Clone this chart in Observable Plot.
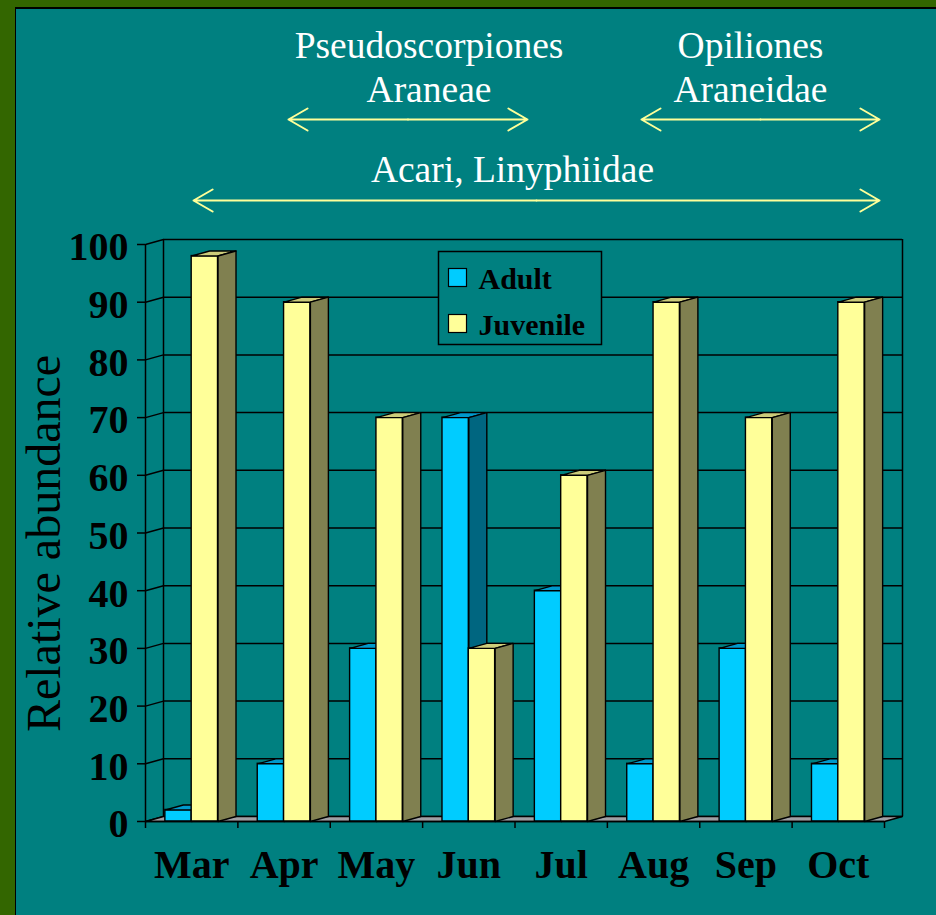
<!DOCTYPE html>
<html><head><meta charset="utf-8">
<script src="https://cdn.jsdelivr.net/npm/d3@7"></script>
<script src="https://cdn.jsdelivr.net/npm/@observablehq/plot@0.6"></script>
<style>
html,body{margin:0;padding:0;background:#008080;}
#wrap{position:relative;width:936px;height:915px;background:#008080;overflow:hidden;}
#chart{position:absolute;left:0;top:0;}
.b{position:absolute;}
</style></head><body>
<div id="wrap">
<div id="chart"></div>
<div class="b" style="left:0;top:0;width:15px;height:915px;background:#336600"></div>
<div class="b" style="left:15px;top:7px;width:1px;height:908px;background:#000"></div>
<div class="b" style="left:0;top:0;width:936px;height:7px;background:#336600"></div>
<div class="b" style="left:15px;top:7px;width:921px;height:2px;background:#000"></div>
</div>
<script>
// ---- data ----
const months = ["Mar", "Apr", "May", "Jun", "Jul", "Aug", "Sep", "Oct"];
const adult = [2, 10, 30, 70, 40, 10, 30, 10];
const juvenile = [98, 90, 70, 30, 60, 90, 70, 90];
const seriesNames = ["Adult", "Juvenile"];
const yTicks = [0, 10, 20, 30, 40, 50, 60, 70, 80, 90, 100];
const yTitle = "Relative abundance";
const annotationLabels = ["Pseudoscorpiones\nAraneae", "Opiliones\nAraneidae", "Acari, Linyphiidae"];

// ---- layout ----
const W = 936, H = 915, mL = 145, mR = 52, mT = 244, mB = 94;
const xUnit = (W - mL - mR) / months.length;
const yUnit = (H - mT - mB) / 100;
const D = 18 / xUnit, E = 5 / yUnit;         // 3D depth in data units
const yFromPx = px => (H - mB - px) / yUnit;
const barW = 0.285;
const styles = {
  Adult: {off: 0.215, front: "#00CCFF", top: "#0099CC", side: "#006680"},
  Juvenile: {off: 0.5, front: "#FFFF99", top: "#CCCC7A", side: "#808050"}
};
const SW = 1.4;

function faces(values, off) {
  const fronts = [], tops = [], sides = [];
  values.forEach((v, i) => {
    const x1 = i + off, x2 = x1 + barW;
    fronts.push({x1, x2, v});
    tops.push({id: i, x: x1, y: v}, {id: i, x: x2, y: v}, {id: i, x: x2 + D, y: v + E}, {id: i, x: x1 + D, y: v + E});
    sides.push({id: i, x: x2, y: 0}, {id: i, x: x2 + D, y: E}, {id: i, x: x2 + D, y: v + E}, {id: i, x: x2, y: v});
  });
  return {fronts, tops, sides};
}

const barMarks = [];
[adult, juvenile].forEach((vals, s) => {
  const st = styles[seriesNames[s]];
  const f = faces(vals, st.off);
  barMarks.push(
    Plot.rect(f.fronts, {x1: "x1", x2: "x2", y1: 0, y2: "v", fill: st.front, stroke: "black", strokeWidth: SW}),
    Plot.line(f.tops, {x: "x", y: "y", z: "id", curve: "linear-closed", fill: st.top, stroke: "black", strokeWidth: SW}),
    Plot.line(f.sides, {x: "x", y: "y", z: "id", curve: "linear-closed", fill: st.side, stroke: "black", strokeWidth: SW})
  );
});

const nCat = months.length;
const floorPts = [{x: 0, y: 0}, {x: nCat, y: 0}, {x: nCat + D, y: E}, {x: D, y: E}];

// legend
const legendMarks = [
  Plot.frame({fill: "#008080", stroke: "black", strokeWidth: 1.5, insetLeft: 293, insetRight: 283, insetTop: 7, insetBottom: 477})
];
seriesNames.forEach((name, s) => {
  const top = 24 + s * 46;
  legendMarks.push(
    Plot.frame({fill: styles[name].front, stroke: "black", strokeWidth: 1.2, insetLeft: 303, insetRight: 418, insetTop: top, insetBottom: (H - mT - mB) - top - 18}),
    Plot.text([name], {frameAnchor: "top-left", dx: 333, dy: 35 + s * 46, text: d => d, textAnchor: "start", lineAnchor: "middle", fontSize: 30, fontWeight: "bold", fill: "black"})
  );
});

// annotations
const annLayout = [
  {tx: 3.069, ty: 26.5, a1: 1.548, a2: 4.135, ay: 119},
  {tx: 6.549, ty: 26.5, a1: 5.369, a2: 7.946, ay: 119},
  {tx: 3.973, ty: 150.5, a1: 0.52, a2: 7.946, ay: 200}
];
const ann = annotationLabels.map((label, i) => ({label, ...annLayout[i]}));

const chart = Plot.plot({
  width: W, height: H,
  marginLeft: mL, marginRight: mR, marginTop: mT, marginBottom: mB,
  x: {domain: [0, nCat], axis: null},
  y: {domain: [0, 100], axis: null},
  style: {background: "none", fontFamily: "'Liberation Serif', 'Times New Roman', serif", overflow: "visible"},
  marks: [
    // back wall gridlines
    Plot.ruleY(yTicks, {y: d => d + E, x1: D, x2: nCat + D, stroke: "black", strokeWidth: 1.5}),
    // left wall diagonals
    Plot.link(yTicks, {x1: 0, y1: d => d, x2: D, y2: d => d + E, stroke: "black", strokeWidth: 1.5}),
    // back verticals
    Plot.ruleX([D, nCat + D], {x: d => d, y1: E, y2: 100 + E, stroke: "black", strokeWidth: 1.5}),
    // floor
    Plot.line(floorPts, {x: "x", y: "y", curve: "linear-closed", fill: "#A0A0A4", stroke: "black", strokeWidth: 1.3}),
    // front axis
    Plot.ruleX([0], {y1: 0, y2: 100, stroke: "black", strokeWidth: 1.5}),
    Plot.ruleY(yTicks, {y: d => d, x1: -8 / xUnit, x2: 0, stroke: "black", strokeWidth: 1.5}),
    ...barMarks,
    Plot.ruleY([0], {x1: 0, x2: nCat, stroke: "black", strokeWidth: 1.5}),
    Plot.ruleX(d3.range(nCat + 1), {x: d => d, y1: 0, y2: -7 / yUnit, stroke: "black", strokeWidth: 1.5}),
    // tick labels
    Plot.text(yTicks, {x: 0, y: d => d, text: d => String(d), textAnchor: "end", dx: -17, dy: 3, fontSize: 40, fontWeight: "bold", fill: "black"}),
    Plot.text(months, {x: (d, i) => i + 0.5, y: 0, text: d => d, dy: 44, fontSize: 40, fontWeight: "bold", fill: "black"}),
    // y title
    Plot.text([yTitle], {frameAnchor: "left", text: d => d, rotate: -90, textAnchor: "middle", lineAnchor: "middle", dx: -101, dy: 10.5, fontSize: 48, fill: "black"}),
    ...legendMarks,
    // annotations
    Plot.text(ann, {x: "tx", y: d => yFromPx(d.ty), text: "label", lineAnchor: "top", lineHeight: 1.173, fontSize: 37.5, fill: "white"}),
    Plot.arrow(ann, {x1: d => (d.a1 + d.a2) / 2, x2: "a1", y1: d => yFromPx(d.ay), y2: d => yFromPx(d.ay), stroke: "#FFFF99", strokeWidth: 2, headLength: 16.5, headAngle: 60}),
    Plot.arrow(ann, {x1: d => (d.a1 + d.a2) / 2, x2: "a2", y1: d => yFromPx(d.ay), y2: d => yFromPx(d.ay), stroke: "#FFFF99", strokeWidth: 2, headLength: 16.5, headAngle: 60})
  ]
});
document.getElementById("chart").appendChild(chart);
</script>
</body></html>
